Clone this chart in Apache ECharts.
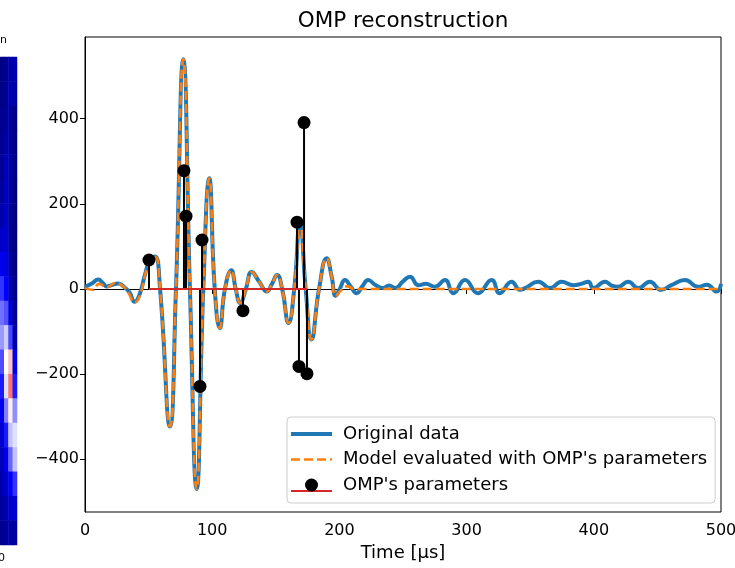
<!DOCTYPE html>
<html>
<head>
<meta charset="utf-8">
<script src="https://cdn.jsdelivr.net/npm/echarts@6/dist/echarts.min.js"></script>
<style>
  html, body { margin: 0; padding: 0; background: #fff; }
  #chart { width: 735px; height: 568px; }
</style>
</head>
<body>
<div id="chart"></div>
<script>
// measured signal (blue)
var origTime = [0, 5, 10.5, 14, 17, 21, 26, 31, 35, 39, 43, 47, 51, 55, 59, 66.8, 71.5, 77.3, 82.5, 87.8,
	93, 97.7, 102, 106, 110, 115, 118.5, 122, 126.5, 131, 137, 143, 147, 151, 155, 160, 164.5, 169, 173.5, 178,
	184, 190, 194, 197, 200, 204.4, 209, 213.6, 218, 222.7, 228, 234.5, 239, 244, 250, 255.5, 262, 268, 275, 283,
	289.6, 298.7, 309, 319.7, 326, 335.4, 342, 346, 356.4, 365.6, 374.7, 384, 390, 395.7, 399.6, 408.8, 414, 419, 427, 435,
	444, 453, 461, 471.7, 482, 489, 496.6, 500];
var origAmp = [5, 12, 22, 14, 6, 9, 13, 4, -8, -30, -12, 32, 68, 76, 0, -323, 0, 540, 0, -470,
	0, 260, 0, -92, 0, 44, 0, -33, 0, 40, 17, -6, 12, 33, 0, -80, 0, 157, 0, -119,
	0, 72, 28, -16, -2, 21, 5, -10, 6, 21, 10, 2, 8, 2, 18, 29, 9, 12, 5, 21,
	-10, 21, -10, 21, -10, 17, -2, 2, 17, 2, 17, 9, 12, 17, 2, 17, 8, 5, 17, 2,
	17, -2, 9, 21, 5, 10, -6, 12];

// model evaluated with the OMP parameters (orange dashed)
var modelTime = [0, 6, 11, 17, 24, 30, 34, 39, 44, 47, 51, 55, 59, 66.8, 71.5, 77.3, 82.5, 87.8, 93, 97.7,
	102, 106, 110, 115, 118.5, 122, 126.5, 131, 137, 143, 147, 151, 155, 160, 164.5, 169, 173.5, 178, 184, 190,
	194, 197, 201, 206, 212, 220, 500];
var modelAmp = [2, -2, 12, 4, 14, 6, -8, -32, -8, 30, 68, 76, 0, -323, 0, 540, 0, -470, 0, 260,
	0, -92, 0, 44, 0, -33, 0, 40, 17, -6, 12, 33, 0, -80, 0, 157, 0, -119, 0, 72,
	28, -16, -4, 6, 0, 0, 0];

// OMP parameters (stems)
var stemTime = [50.3, 77.8, 79.4, 92, 90.4, 124.2, 166.7, 172.2, 168.2, 174.5];
var stemAmp = [68, 278, 171, 115, -229, -51, 157, 391, -182, -199];

var xTicks = [0, 100, 200, 300, 400, 500];
var yTicks = [-400, -200, 0, 200, 400];

// neighbouring image panel, cut off at the left edge
var stripRows = [
	[-0.85, -0.8, -0.75, -0.72],
	[-0.85, -0.8, -0.72, -0.75],
	[-0.82, -0.78, -0.76, -0.85],
	[-0.82, -0.74, -0.76, -0.85],
	[-0.8, -0.7, -0.74, -0.85],
	[-0.78, -0.68, -0.74, -0.86],
	[-0.74, -0.66, -0.78, -0.86],
	[-0.66, -0.62, -0.78, -0.86],
	[-0.55, -0.58, -0.74, -0.86],
	[-0.4, -0.5, -0.7, -0.84],
	[-0.28, -0.34, -0.58, -0.82],
	[-0.2, -0.1, -0.36, -0.74],
	[-0.35, 0.0, 0.12, -0.55],
	[-0.45, -0.06, 0.28, -0.45],
	[-0.55, -0.25, 0.04, -0.22],
	[-0.64, -0.45, -0.12, -0.06],
	[-0.7, -0.56, -0.3, -0.12],
	[-0.74, -0.64, -0.5, -0.4],
	[-0.78, -0.72, -0.64, -0.64],
	[-0.82, -0.78, -0.74, -0.78]
];

var FONT = 'DejaVu Sans';

function zip(xs, ys) {
	var out = [];
	for (var i = 0; i < xs.length; i++) out.push([xs[i], ys[i]]);
	return out;
}

function svgIcon(body) {
	return 'image://data:image/svg+xml;charset=utf-8,' + encodeURIComponent(
		"<svg xmlns='http://www.w3.org/2000/svg' width='47' height='16'>" + body + "</svg>");
}

var stripData = [];
stripRows.forEach(function (row, r) {
	row.forEach(function (v, c) { stripData.push([c, r, v]); });
});

var stemMin = Math.min.apply(null, stemTime);
var stemMax = Math.max.apply(null, stemTime);

var option = {
	animation: false,
	backgroundColor: '#fff',
	title: {
		text: 'OMP reconstruction',
		left: 398,
		top: 5,
		textAlign: 'center',
		textStyle: { fontFamily: FONT, fontSize: 21.5, fontWeight: 'normal', color: '#000' }
	},
	legend: {
		orient: 'vertical',
		left: 287,
		top: 417,
		padding: [8, 8, 9, 4],
		itemWidth: 47,
		itemHeight: 16,
		itemGap: 7.5,
		backgroundColor: 'rgba(255,255,255,0.8)',
		borderColor: '#cccccc',
		borderWidth: 1,
		borderRadius: 4,
		textStyle: { fontFamily: FONT, fontSize: 18, color: '#000', lineHeight: 16 },
		data: [
			{ name: 'Original data',
			  icon: svgIcon("<line x1='0' y1='8' x2='41' y2='8' stroke='#1f77b4' stroke-width='4'/>") },
			{ name: "Model evaluated with OMP's parameters",
			  icon: svgIcon("<line x1='0' y1='8' x2='41' y2='8' stroke='#ff7f0e' stroke-width='2.6' stroke-dasharray='9,4'/>") },
			{ name: "OMP's parameters",
			  icon: svgIcon("<line x1='0' y1='14' x2='41' y2='14' stroke='#d62728' stroke-width='2'/><circle cx='20.5' cy='8' r='6.5' fill='#000'/>") }
		]
	},
	visualMap: {
		show: false,
		seriesIndex: 5,
		min: -1,
		max: 1,
		inRange: { color: ['#00004d', '#0000ff', '#ffffff', '#ff0000', '#800000'] }
	},
	graphic: [
		{ type: 'text', left: 0, top: 35, style: { text: 'n', font: '11px "DejaVu Sans"', fill: '#000' } },
		{ type: 'text', left: -2, top: 553, style: { text: '0', font: '11px "DejaVu Sans"', fill: '#000' } }
	],
	grid: [
		{ left: 85, right: 14, top: 37, bottom: 56, show: true, borderColor: '#000', borderWidth: 1,
		  backgroundColor: 'transparent', containLabel: false, outerBoundsMode: 'none' },
		{ left: 0, width: 17, top: 57, bottom: 23, containLabel: false, outerBoundsMode: 'none' }
	],
	xAxis: [{
		type: 'value',
		min: 0,
		max: 500,
		interval: 100,
		name: 'Time [µs]',
		nameLocation: 'middle',
		nameGap: 32,
		nameTextStyle: { fontFamily: FONT, fontSize: 18, color: '#000' },
		axisLine: { show: true, lineStyle: { color: '#000', width: 1 } },
		axisTick: { show: true, length: 5, lineStyle: { color: '#000' } },
		axisLabel: { fontFamily: FONT, fontSize: 16, color: '#000', margin: 11 },
		splitLine: { show: false }
	}, {
		gridIndex: 1, type: 'category', show: false, data: [0, 1, 2, 3]
	}],
	yAxis: [{
		type: 'value',
		min: -524,
		max: 592,
		axisLine: { show: true, lineStyle: { color: '#000', width: 1 } },
		axisTick: { show: true, length: 5, lineStyle: { color: '#000' }, customValues: yTicks },
		axisLabel: {
			fontFamily: FONT, fontSize: 16, color: '#000', margin: 6,
			customValues: yTicks,
			formatter: function (v) { return v < 0 ? '\u2212' + Math.abs(v) : String(v); }
		},
		splitLine: { show: false }
	}, {
		gridIndex: 1, type: 'category', show: false, inverse: true,
		data: stripRows.map(function (r, i) { return i; })
	}],
	series: [{
		name: 'Original data',
		type: 'line',
		data: zip(origTime, origAmp),
		smooth: 0.5,
		showSymbol: false,
		symbol: 'none',
		lineStyle: { color: '#1f77b4', width: 4 },
		itemStyle: { color: '#1f77b4' },
		z: 2
	}, {
		name: "Model evaluated with OMP's parameters",
		type: 'line',
		data: zip(modelTime, modelAmp),
		smooth: 0.5,
		showSymbol: false,
		symbol: 'none',
		lineStyle: { color: '#ff7f0e', width: 2.6, type: [9, 4] },
		itemStyle: { color: '#ff7f0e' },
		z: 3
	}, {
		name: "OMP's parameters",
		type: 'custom',
		data: zip(stemTime, stemAmp),
		renderItem: function (params, api) {
			var base = api.coord([api.value(0), 0]);
			var tip = api.coord([api.value(0), api.value(1)]);
			return {
				type: 'line',
				shape: { x1: base[0], y1: base[1], x2: tip[0], y2: tip[1] },
				style: { stroke: '#000', lineWidth: 2 }
			};
		},
		itemStyle: { color: '#000' },
		z: 4
	}, {
		name: "OMP's parameters",
		type: 'line',
		data: [[stemMin, 0], [stemMax, 0]],
		showSymbol: false,
		symbol: 'none',
		lineStyle: { color: '#d62728', width: 2 },
		itemStyle: { color: '#d62728' },
		z: 5
	}, {
		name: "OMP's parameters",
		type: 'scatter',
		data: zip(stemTime, stemAmp),
		symbol: 'circle',
		symbolSize: 13,
		itemStyle: { color: '#000', opacity: 1 },
		z: 6
	}, {
		type: 'heatmap',
		xAxisIndex: 1,
		yAxisIndex: 1,
		data: stripData,
		itemStyle: { borderWidth: 0 },
		emphasis: { disabled: true }
	}]
};

var myChart = echarts.init(document.getElementById('chart'));
myChart.setOption(option);
</script>
</body>
</html>
